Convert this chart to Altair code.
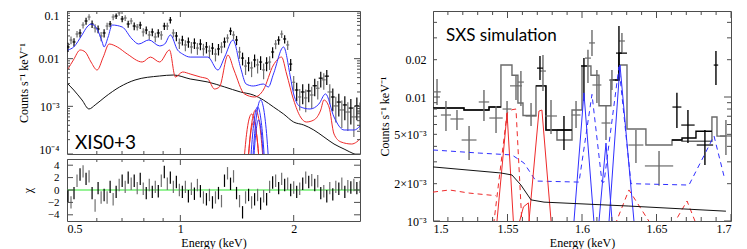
import altair as alt
import pandas as pd

SERIF = "Liberation Serif"
SANS = "Lato"
FRAME = "#4d4d4d"
DBLACK = "#000000"
DGRAY = "#707070"
RED = "#ee2a2a"
BLUE = "#2f2fff"
GREEN = "#2ee82e"

# ---------------- XIS spectrum (left) ----------------
xis_energy = [0.5031, 0.5124, 0.5219, 0.5316, 0.5415, 0.5516, 0.5618, 0.5722, 0.5829, 0.5937,
              0.6047, 0.6160, 0.6274, 0.6390, 0.6509, 0.6630, 0.6753, 0.6879, 0.7006, 0.7137,
              0.7269, 0.7404, 0.7542, 0.7682, 0.7825, 0.7970, 0.8118, 0.8269, 0.8423, 0.8579,
              0.8738, 0.8901, 0.9066, 0.9235, 0.9406, 0.9581, 0.9759, 0.9940, 1.0124, 1.0312,
              1.0504, 1.0699, 1.0898, 1.1100, 1.1306, 1.1516, 1.1730, 1.1948, 1.2170, 1.2396,
              1.2626, 1.2861, 1.3099, 1.3343, 1.3591, 1.3843, 1.4100, 1.4362, 1.4628, 1.4900,
              1.5177, 1.5459, 1.5746, 1.6038, 1.6336, 1.6639, 1.6948, 1.7263, 1.7583, 1.7910,
              1.8242, 1.8581, 1.8926, 1.9277, 1.9635, 2.0000, 2.0371, 2.0749, 2.1134, 2.1527,
              2.1926, 2.2333, 2.2748, 2.3170, 2.3600, 2.4039, 2.4485, 2.4939, 2.5402, 2.5874,
              2.6354, 2.6843, 2.7342, 2.7849, 2.8366, 2.8893, 2.9429, 2.9976]
xis_rate = [0.0176, 0.0246, 0.0224, 0.0329, 0.0346, 0.0508, 0.0617, 0.0748, 0.0534, 0.0440,
            0.0419, 0.0299, 0.0346, 0.0484, 0.0534, 0.0748, 0.0785, 0.0908, 0.0680, 0.0713,
            0.0534, 0.0617, 0.0484, 0.0462, 0.0508, 0.0363, 0.0399, 0.0314, 0.0363, 0.0285,
            0.0346, 0.0314, 0.0484, 0.0484, 0.0647, 0.0346, 0.0299, 0.0213, 0.0246, 0.0194,
            0.0224, 0.0176, 0.0213, 0.0167, 0.0203, 0.0160, 0.0176, 0.0145, 0.0167, 0.0125,
            0.0160, 0.0176, 0.0224, 0.0271, 0.0381, 0.0314, 0.0246, 0.0138, 0.0103, 0.0070,
            0.0081, 0.0064, 0.0094, 0.0074, 0.0085, 0.0058, 0.0081, 0.0085, 0.0138, 0.0203,
            0.0246, 0.0329, 0.0259, 0.0194, 0.0077, 0.0032, 0.0022, 0.00157, 0.0020, 0.0015,
            0.0021, 0.00173, 0.0027, 0.0024, 0.0039, 0.0036, 0.0043, 0.0020, 0.00157, 0.00102,
            0.00123, 0.00084, 0.00107, 0.00076, 0.00092, 0.00060, 0.00102, 0.00076]
xis_relerr = [0.22, 0.18, 0.20, 0.16, 0.20, 0.15, 0.17, 0.14, 0.18, 0.20,
              0.19, 0.22, 0.20, 0.17, 0.15, 0.14, 0.13, 0.12, 0.15, 0.14,
              0.17, 0.15, 0.18, 0.16, 0.17, 0.20, 0.18, 0.21, 0.19, 0.22,
              0.20, 0.21, 0.17, 0.17, 0.15, 0.20, 0.22, 0.25, 0.23, 0.26,
              0.24, 0.27, 0.25, 0.28, 0.26, 0.28, 0.27, 0.30, 0.28, 0.30,
              0.27, 0.26, 0.24, 0.20, 0.18, 0.20, 0.22, 0.28, 0.30, 0.35,
              0.33, 0.36, 0.30, 0.34, 0.32, 0.36, 0.33, 0.32, 0.26, 0.22,
              0.20, 0.18, 0.20, 0.22, 0.28, 0.35, 0.42, 0.48, 0.45, 0.50,
              0.42, 0.48, 0.40, 0.42, 0.36, 0.38, 0.35, 0.45, 0.50, 0.55,
              0.50, 0.58, 0.52, 0.60, 0.55, 0.62, 0.50, 0.58]
# half bin widths of the wide high-energy bins (last 23 points)
xis_xhalf = [0.018, 0.022, 0.020, 0.025, 0.022, 0.028, 0.025, 0.030, 0.026, 0.030, 0.028, 0.032,
             0.035, 0.030, 0.036, 0.034, 0.038, 0.035, 0.040, 0.038, 0.042, 0.040, 0.045]
xis_chi = [-1.0, -2.0, -0.5, 1.5, 2.5, 3.0, 1.8, 2.2, -0.5, -2.5,
           0.3, -1.2, -0.8, -1.2, 0.5, -1.5, -0.3, 0.8, 1.5, 0.5,
           2.0, 1.0, 1.5, 0.3, 1.8, 0.2, -0.5, 0.8, -0.3, 0.5,
           -0.2, 1.5, 2.9, 1.0, 2.0, 0.5, 1.3, 0.0, -0.3, 0.5,
           -1.0, 0.2, -0.6, 0.8, -0.2, -1.2, -1.5, -0.8, -2.0, -1.2,
           -0.5, -1.8, 1.5, 2.7, 1.0, 2.2, -0.5, -1.8, -3.6, -1.2,
           -0.8, -2.0, -1.5, -0.8, -2.2, -1.0, -1.5, 0.5, 1.2, 1.5,
           0.3, 1.8, 0.8, 1.0, 0.0, 0.4, -0.3, 0.2, 1.0, 2.0,
           1.3, 1.6, 0.8, 1.4, -0.5, -0.2, -1.0, 0.3, -0.7, 0.5,
           0.2, 1.0, -0.3, 0.6, 0.4, 0.8, 0.3, 0.5]

blue_E = [0.503, 0.521, 0.548, 0.565, 0.579, 0.601, 0.620, 0.627, 0.643, 0.659, 0.701, 0.744, 0.775,
          0.825, 0.881, 0.909, 0.941, 0.983, 1.014, 1.062, 1.183, 1.258, 1.311, 1.380, 1.444, 1.495,
          1.562, 1.661, 1.713, 1.767, 1.880, 1.960, 1.999, 2.085, 2.210, 2.333, 2.430, 2.559, 2.722,
          2.896, 3.000]
blue_y = [0.0152, 0.0176, 0.0314, 0.0461, 0.0533, 0.0419, 0.0224, 0.0176, 0.0285, 0.0508, 0.0461, 0.0259,
          0.0203, 0.0247, 0.0185, 0.0203, 0.0314, 0.0152, 0.0125, 0.0108, 0.0108, 0.00578, 0.0108, 0.0247,
          0.00668, 0.00294, 0.00267, 0.00294, 0.00255, 0.00477, 0.0176, 0.00412, 0.00182, 0.00097,
          0.00088, 0.00112, 0.00182, 0.000597, 0.000319, 0.000319, 0.000387]
red_E = [0.503, 0.520, 0.542, 0.559, 0.579, 0.601, 0.624, 0.647, 0.680, 0.723, 0.792, 0.833, 0.881,
         0.936, 0.970, 1.014, 1.062, 1.131, 1.183, 1.232, 1.270, 1.338, 1.388, 1.480, 1.575, 1.661,
         1.767, 1.857, 1.915, 1.999, 2.085, 2.160, 2.262, 2.360, 2.406, 2.482, 2.559, 2.670, 2.850,
         2.940, 3.000]
red_y = [0.00607, 0.00938, 0.0152, 0.0138, 0.00851, 0.00578, 0.0108, 0.0203, 0.0176, 0.0125, 0.00851,
         0.0108, 0.00851, 0.0152, 0.00412, 0.00525, 0.00477, 0.00412, 0.00375, 0.00231, 0.00255, 0.0119,
         0.00578, 0.00182, 0.00157, 0.0022, 0.00736, 0.0108, 0.00477, 0.00136, 0.000597, 0.000469,
         0.000516, 0.00084, 0.00136, 0.00097, 0.000263, 0.000179, 0.000162, 0.000179, 0.000207]
black_E = [0.503, 0.521, 0.548, 0.572, 0.594, 0.631, 0.690, 0.758, 0.881, 0.960, 1.062, 1.183, 1.311,
           1.444, 1.562, 1.661, 1.767, 1.880, 1.999, 2.127, 2.262, 2.406, 2.559, 2.722, 2.896, 3.000]
black_y = [0.00294, 0.0022, 0.00136, 0.00088, 0.00107, 0.00157, 0.00255, 0.00357, 0.00433, 0.00454,
           0.00375, 0.00324, 0.00255, 0.0020, 0.00173, 0.00136, 0.00097, 0.00069, 0.000469, 0.000406,
           0.000319, 0.000228, 0.000162, 0.000127, 0.0001, 0.00009]

xis_red_lines_E = [[1.472, 1.499, 1.522, 1.546, 1.570, 1.594, 1.624],
                   [1.5085, 1.5366, 1.5603, 1.5843, 1.6088, 1.6336, 1.6639],
                   [1.5085, 1.5271, 1.5459, 1.5649, 1.5843, 1.6038, 1.6237]]
xis_red_lines_y = [[5.6e-5, 2.6e-4, 5.4e-4, 6.9e-4, 5.4e-4, 2.6e-4, 5.6e-5],
                   [5.2e-5, 2.9e-4, 6.4e-4, 8.4e-4, 6.4e-4, 2.9e-4, 5.2e-5],
                   [5.1e-5, 1.7e-4, 3.6e-4, 4.7e-4, 3.6e-4, 1.7e-4, 5.1e-5]]
xis_blue_lines_E = [[1.5271, 1.5553, 1.5794, 1.6038, 1.6286, 1.6538, 1.6845],
                    [1.5459, 1.5794, 1.6088, 1.6336, 1.6588, 1.6897, 1.7263],
                    [1.5553, 1.5746, 1.5940, 1.6137, 1.6336, 1.6538, 1.6742]]
xis_blue_lines_y = [[3.2e-5, 2.5e-4, 6.9e-4, 9.7e-4, 6.9e-4, 2.5e-4, 3.2e-5],
                    [3.2e-5, 3.4e-4, 1.02e-3, 1.36e-3, 1.02e-3, 3.4e-4, 3.2e-5],
                    [2.8e-5, 1.4e-4, 3.7e-4, 5.2e-4, 3.7e-4, 1.4e-4, 2.8e-5]]

# ---------------- SXS simulation (right) ----------------
sxs_E = [1.5027, 1.5087, 1.5161, 1.5242, 1.5342, 1.5423, 1.5497, 1.5557, 1.5590, 1.5658,
         1.5718, 1.5738, 1.5792, 1.5879, 1.5960, 1.6013, 1.6040, 1.6067, 1.6100, 1.6161,
         1.6201, 1.6248, 1.6268, 1.6362, 1.6517, 1.6637, 1.6711, 1.6825, 1.6899, 1.6966]
sxs_dE = [0.0025, 0.0034, 0.0044, 0.0050, 0.0035, 0.0045, 0.0030, 0.0040, 0.0020, 0.0037,
          0.0020, 0.0020, 0.0040, 0.0045, 0.0030, 0.0020, 0.0020, 0.0020, 0.0030, 0.0030,
          0.0020, 0.0020, 0.0020, 0.0050, 0.0095, 0.0030, 0.0045, 0.0055, 0.0015, 0.0040]
sxs_rate = [0.0110, 0.00716, 0.00665, 0.0045, 0.00912, 0.00677, 0.0080, 0.0123, 0.0132, 0.00703,
            0.0171, 0.0162, 0.00703, 0.00542, 0.00716, 0.0178, 0.0206, 0.0273, 0.0125, 0.00617,
            0.0137, 0.0226, 0.0283, 0.0041, 0.00278, 0.0083, 0.00594, 0.0041, 0.0181, 0.00485]
sxs_lo = [0.00862, 0.00532, 0.00542, 0.0031, 0.0064, 0.00513, 0.00617, 0.00946, 0.00846, 0.00583,
          0.0137, 0.0112, 0.00504, 0.00374, 0.00562, 0.00929, 0.0130, 0.0214, 0.00895, 0.0045,
          0.0114, 0.0156, 0.0226, 0.00294, 0.00192, 0.00562, 0.00425, 0.00283, 0.0125, 0.00341]
sxs_hi = [0.0140, 0.00929, 0.00785, 0.00583, 0.0114, 0.00846, 0.00929, 0.0150, 0.0162, 0.00895,
          0.0214, 0.0218, 0.00946, 0.00703, 0.00929, 0.0206, 0.0240, 0.0347, 0.0165, 0.00846,
          0.0165, 0.0374, 0.0328, 0.00542, 0.00367, 0.0108, 0.00785, 0.00542, 0.0235, 0.00653]
sxs_set = ["B", "B", "B", "B", "B", "B", "B", "B", "B", "B",
           "A", "B", "B", "A", "B", "A", "B", "B", "B", "B",
           "B", "A", "B", "B", "B", "A", "A", "A", "A", "B"]

sxs_model_b_edges = [1.5000, 1.5208, 1.5376, 1.5456, 1.5530, 1.5570, 1.5604, 1.5691, 1.5758, 1.5832,
                     1.5933, 1.6000, 1.6060, 1.6114, 1.6194, 1.6248, 1.6302, 1.6429, 1.6604, 1.6671,
                     1.6872, 1.6906, 1.6966]
sxs_model_b = [8.15e-3, 7.85e-3, 8.3e-3, 0.0181, 0.0150, 8.95e-3, 7.1e-3, 0.0123, 5.42e-3, 4.5e-3,
               7.85e-3, 0.0178, 0.0150, 8.5e-3, 0.0137, 0.0181, 5.52e-3, 4.1e-3, 4.5e-3, 4.4e-3,
               6.9e-3, 4.84e-3]
sxs_model_a_edges = [[1.5000, 1.5208, 1.5376, 1.5456], [1.5691, 1.5758, 1.5933],
                     [1.6194, 1.6248, 1.6302], [1.6604, 1.6671, 1.6765, 1.6872]]
sxs_model_a = [[8.15e-3, 7.85e-3, 8.3e-3], [0.0123, 5.42e-3], [0.0137, 0.0226], [4.5e-3, 4.67e-3, 5.3e-3]]

sxs_cont_E = [1.5000, 1.5456, 1.5530, 1.5590, 1.5658, 1.5745, 1.6315, 1.6966]
sxs_cont_y = [2.73e-3, 2.44e-3, 2.35e-3, 1.95e-3, 1.48e-3, 1.42e-3, 1.32e-3, 1.20e-3]
sxs_blue_dash_E = [1.5000, 1.5310, 1.5530, 1.5610, 1.5691, 1.5980, 1.6067, 1.6134, 1.6148, 1.6248,
                   1.6329, 1.6718, 1.6886, 1.6953]
sxs_blue_dash_y = [3.74e-3, 3.53e-3, 3.41e-3, 2.94e-3, 2.10e-3, 2.06e-3, 1.05e-2, 2.06e-3, 2.06e-3,
                   1.75e-2, 2.00e-3, 1.95e-3, 4.85e-3, 2.30e-3]
sxs_red_dash_E = [[1.5000, 1.5110, 1.5242, 1.5376, 1.5423], [1.5400, 1.5497, 1.5530, 1.5557, 1.5600],
                  [1.6200, 1.6315, 1.6500], [1.6580, 1.6705, 1.6790]]
sxs_red_dash_y = [[1.71e-3, 1.78e-3, 1.68e-3, 1.62e-3, 1.60e-3], [8e-4, 7.4e-3, 7.9e-3, 8.0e-3, 8e-4],
                  [8e-4, 1.78e-3, 8e-4], [8e-4, 1.45e-3, 8e-4]]
sxs_red_lines_E = [[1.5422, 1.5497, 1.5544], [1.5637, 1.5711, 1.5731, 1.5799], [1.5560, 1.5607, 1.5640, 1.5650]]
sxs_red_lines_y = [[8e-4, 7.4e-3, 8e-4], [8e-4, 7.7e-3, 7.85e-3, 8e-4], [8e-4, 1.3e-3, 1.4e-3, 8e-4]]
sxs_blue_lines_E = [[1.5940, 1.6013, 1.6086], [1.6176, 1.6255, 1.6356], [1.6107, 1.6161, 1.6208]]
sxs_blue_lines_y = [[8e-4, 0.0108, 8e-4], [8e-4, 0.0181, 8e-4], [8e-4, 4.25e-3, 8e-4]]

# tick positions
lx_major = [0.5, 1, 2]
lx_minor = [0.6, 0.7, 0.8, 0.9]
ly_major = [1e-4, 1e-3, 1e-2, 1e-1]
ly_minor = [2e-4, 3e-4, 4e-4, 5e-4, 6e-4, 7e-4, 8e-4, 9e-4,
            2e-3, 3e-3, 4e-3, 5e-3, 6e-3, 7e-3, 8e-3, 9e-3,
            2e-2, 3e-2, 4e-2, 5e-2, 6e-2, 7e-2, 8e-2, 9e-2]
chi_major = [-4, -2, 0, 2, 4]
rx_major = [1.5, 1.55, 1.6, 1.65, 1.7]
rx_minor = [1.51, 1.52, 1.53, 1.54, 1.56, 1.57, 1.58, 1.59, 1.61, 1.62, 1.63, 1.64,
            1.66, 1.67, 1.68, 1.69]
ry_major = [1e-3, 1e-2]
ry_minor = [2e-3, 3e-3, 4e-3, 5e-3, 6e-3, 7e-3, 8e-3, 9e-3, 2e-2, 3e-2, 4e-2]
ry_labels = [1e-3, 2e-3, 5e-3, 1e-2, 2e-2]

# ---------------- sizes / scales / axes ----------------
WL, HT, HB = 293, 143, 62
WR, HR = 298, 210
X_L = alt.Scale(type="log", domain=[0.5, 3.0], nice=False)
Y_LT = alt.Scale(type="log", domain=[1e-4, 0.1], nice=False)
Y_LB = alt.Scale(domain=[-5, 5], nice=False, zero=False)
X_R = alt.Scale(domain=[1.5, 1.7], nice=False, zero=False)
Y_R = alt.Scale(type="log", domain=[1e-3, 0.0494], nice=False)

AX_LT = alt.Axis(values=ly_major, title="Counts s⁻¹ keV⁻¹", titleX=-37, labelPadding=8,
                 labelBaseline={"condition": [{"test": "datum.value > 0.05", "value": "top"},
                                              {"test": "datum.value < 0.0005", "value": "bottom"}],
                                "value": "middle"},
                 labelOffset={"condition": [{"test": "datum.value > 0.05", "value": -1},
                                            {"test": "datum.value < 0.0005", "value": 2}],
                              "value": 0},
                 labelExpr="datum.value > 0.05 ? '0.1' : datum.value > 0.005 ? '0.01' : datum.value > 0.0005 ? '10⁻³' : '10⁻⁴'")
AX_LB_Y = alt.Axis(values=chi_major, title="χ", titleX=-33, labelPadding=8, labelFontSize=11)
AX_LB_X = alt.Axis(values=lx_major, title="Energy (keV)", labelPadding=2, titlePadding=3,
                   labelExpr="datum.value < 0.7 ? '0.5' : datum.value < 1.5 ? '1' : '2'")
AX_RX = alt.Axis(values=rx_major, title="Energy (keV)", labelPadding=2, titlePadding=3, format="~g")
AX_RY = alt.Axis(values=ry_labels, title="Counts s⁻¹ keV⁻¹", titleX=-42, labelPadding=7,
                 labelExpr="datum.value < 0.0015 ? '10⁻³' : datum.value < 0.003 ? '2×10⁻³' : datum.value < 0.007 ? '5×10⁻³' : datum.value < 0.015 ? '0.01' : '0.02'")


def X(field, sc, ax):
    return alt.X(field, scale=sc, axis=ax)


def Y(field, sc, ax):
    return alt.Y(field, scale=sc, axis=ax)


def frame_ticks(xvals, yvals, xs, ys, xax, yax, W, H, L):
    out = []
    if xvals:
        d = alt.Chart(pd.DataFrame({"v": xvals}))
        out.append(d.mark_rule(color=FRAME, clip=True).encode(
            x=X("v:Q", xs, xax), y=alt.value(0), y2=alt.value(L)))
        out.append(d.mark_rule(color=FRAME, clip=True).encode(
            x=X("v:Q", xs, xax), y=alt.value(H - L), y2=alt.value(H)))
    if yvals:
        d = alt.Chart(pd.DataFrame({"v": yvals}))
        out.append(d.mark_rule(color=FRAME, clip=True).encode(
            y=Y("v:Q", ys, yax), x=alt.value(0), x2=alt.value(L)))
        out.append(d.mark_rule(color=FRAME, clip=True).encode(
            y=Y("v:Q", ys, yax), x=alt.value(W - L), x2=alt.value(W)))
    return out


def multi(Es, ys, xs, ysc, xax, yax, color, width=1.0, dash=None, interp="linear"):
    rows = []
    for k, (E, y) in enumerate(zip(Es, ys)):
        for e, v in zip(E, y):
            rows.append({"E": e, "y": v, "id": k})
    kw = dict(color=color, strokeWidth=width, clip=True, interpolate=interp)
    if dash:
        kw["strokeDash"] = dash
    return alt.Chart(pd.DataFrame(rows)).mark_line(**kw).encode(
        x=X("E:Q", xs, xax), y=Y("y:Q", ysc, yax), detail="id:N", order="E:Q")


# ---------------- left data table ----------------
xis = pd.DataFrame({"E": xis_energy, "rate": xis_rate, "err": xis_relerr, "chi": xis_chi})
xis["lo"] = xis["rate"] * (1 - xis["err"])
xis["hi"] = xis["rate"] * (1 + xis["err"])
xis["clo"] = xis["chi"] - 1
xis["chi_hi"] = xis["chi"] + 1
xis["set"] = ["A" if i % 2 == 0 else "B" for i in range(len(xis))]
# bin edges: geometric midpoints between neighbouring channels; wide bins at high energy
n = len(xis_energy)
nw = len(xis_xhalf)
x0, x1 = [], []
for i, e in enumerate(xis_energy):
    if i >= n - nw:
        h = xis_xhalf[i - (n - nw)]
        x0.append(e - h)
        x1.append(e + h)
    else:
        lo_nb = xis_energy[i - 1] if i > 0 else e * e / xis_energy[i + 1]
        hi_nb = xis_energy[i + 1]
        x0.append((lo_nb * e) ** 0.5)
        x1.append((hi_nb * e) ** 0.5)
xis["x0"] = x0
xis["x1"] = x1

# ---------------- left top ----------------
LTX, LTY = None, AX_LT
lt_layers = []
for s, col in (("B", DGRAY), ("A", DBLACK)):
    part = xis[xis.set == s]
    lt_layers.append(alt.Chart(part).mark_rule(color=col, strokeWidth=1.2, clip=True).encode(
        x=X("E:Q", X_L, LTX), y=Y("lo:Q", Y_LT, LTY), y2="hi:Q"))
    lt_layers.append(alt.Chart(part).mark_rule(color=col, strokeWidth=1.2, clip=True).encode(
        x=X("x0:Q", X_L, LTX), x2="x1:Q", y=Y("rate:Q", Y_LT, LTY)))
lt_layers += [
    multi(xis_red_lines_E, xis_red_lines_y, X_L, Y_LT, LTX, LTY, RED, 1.0, interp="monotone"),
    multi(xis_blue_lines_E, xis_blue_lines_y, X_L, Y_LT, LTX, LTY, BLUE, 1.0, interp="monotone"),
    multi([black_E], [black_y], X_L, Y_LT, LTX, LTY, "#111111", 1.0, interp="monotone"),
    multi([red_E], [red_y], X_L, Y_LT, LTX, LTY, RED, 1.0, interp="monotone"),
    multi([blue_E], [blue_y], X_L, Y_LT, LTX, LTY, BLUE, 1.0, interp="monotone"),
]
lt_layers += frame_ticks(lx_major, ly_major, X_L, Y_LT, LTX, LTY, WL, HT, 6)
lt_layers += frame_ticks(lx_minor, ly_minor, X_L, Y_LT, LTX, LTY, WL, HT, 3)
lt_layers.append(alt.Chart(pd.DataFrame({"t": ["XIS0+3"]})).mark_text(
    align="left", baseline="alphabetic", font=SANS, fontSize=19, color="#000").encode(
    x=alt.value(8), y=alt.value(138), text="t:N"))
left_top = alt.layer(*lt_layers).properties(width=WL, height=HT)

# ---------------- left bottom ----------------
LBX, LBY = AX_LB_X, AX_LB_Y
lb_layers = [
    alt.Chart(pd.DataFrame({"z": [0]})).mark_rule(color=GREEN, strokeWidth=1.2).encode(
        y=Y("z:Q", Y_LB, LBY)),
]
for s, col in (("B", DGRAY), ("A", DBLACK)):
    lb_layers.append(alt.Chart(xis[xis.set == s]).mark_rule(color=col, strokeWidth=1.2, clip=True).encode(
        x=X("E:Q", X_L, LBX), y=Y("clo:Q", Y_LB, LBY), y2="chi_hi:Q"))
lb_layers += frame_ticks(lx_major, chi_major, X_L, Y_LB, LBX, LBY, WL, HB, 6)
lb_layers += frame_ticks(lx_minor, [], X_L, Y_LB, LBX, LBY, WL, HB, 3)
left_bot = alt.layer(*lb_layers).properties(width=WL, height=HB)

left = alt.vconcat(left_top, left_bot, spacing=5, bounds="flush")

# ---------------- right ----------------
sxs = pd.DataFrame({"E": sxs_E, "dE": sxs_dE, "rate": sxs_rate, "lo": sxs_lo, "hi": sxs_hi, "set": sxs_set})
sxs["x0"] = sxs["E"] - sxs["dE"]
sxs["x1"] = sxs["E"] + sxs["dE"]


def step_df(edge_lists, value_lists):
    rows = []
    for k, (ed, va) in enumerate(zip(edge_lists, value_lists)):
        vv = list(va) + [va[-1]]
        for e, v in zip(ed, vv):
            rows.append({"E": e, "y": v, "id": k})
    return pd.DataFrame(rows)


RX, RY = AX_RX, AX_RY
r_layers = [
    alt.Chart(step_df([sxs_model_b_edges], [sxs_model_b])).mark_line(
        color="#6a6a6a", strokeWidth=1.4, interpolate="step-after", clip=True).encode(
        x=X("E:Q", X_R, RX), y=Y("y:Q", Y_R, RY), detail="id:N", order="E:Q"),
    alt.Chart(step_df(sxs_model_a_edges, sxs_model_a)).mark_line(
        color=DBLACK, strokeWidth=1.4, interpolate="step-after", clip=True).encode(
        x=X("E:Q", X_R, RX), y=Y("y:Q", Y_R, RY), detail="id:N", order="E:Q"),
]
for s, col in (("B", "#6a6a6a"), ("A", DBLACK)):
    part = sxs[sxs.set == s]
    r_layers.append(alt.Chart(part).mark_rule(color=col, strokeWidth=1.4, clip=True).encode(
        x=X("E:Q", X_R, RX), y=Y("lo:Q", Y_R, RY), y2="hi:Q"))
    r_layers.append(alt.Chart(part).mark_rule(color=col, strokeWidth=1.2, clip=True).encode(
        x=X("x0:Q", X_R, RX), x2="x1:Q", y=Y("rate:Q", Y_R, RY)))
r_layers += [
    multi([sxs_blue_dash_E], [sxs_blue_dash_y], X_R, Y_R, RX, RY, BLUE, 1.0, dash=[5, 4]),
    multi(sxs_red_dash_E, sxs_red_dash_y, X_R, Y_R, RX, RY, RED, 1.0, dash=[5, 4]),
    multi(sxs_red_lines_E, sxs_red_lines_y, X_R, Y_R, RX, RY, RED, 1.0),
    multi(sxs_blue_lines_E, sxs_blue_lines_y, X_R, Y_R, RX, RY, BLUE, 1.0),
    multi([sxs_cont_E], [sxs_cont_y], X_R, Y_R, RX, RY, "#111111", 1.0),
]
r_layers += frame_ticks(rx_major, ry_major, X_R, Y_R, RX, RY, WR, HR, 7)
r_layers += frame_ticks(rx_minor, ry_minor, X_R, Y_R, RX, RY, WR, HR, 4)
r_layers.append(alt.Chart(pd.DataFrame({"t": ["SXS simulation"]})).mark_text(
    align="left", baseline="alphabetic", font=SANS, fontSize=17, color="#000").encode(
    x=alt.value(13), y=alt.value(30), text="t:N"))
right = alt.layer(*r_layers).properties(width=WR, height=HR)

chart = alt.hconcat(left, right, spacing=15).properties(
    padding={"left": 8, "top": 0, "right": 2, "bottom": 0}, background="white"
).configure_view(stroke=FRAME, strokeWidth=1).configure_axis(
    labelFont=SERIF, titleFont=SERIF, labelFontSize=12, titleFontSize=12, titleFontWeight="normal",
    labelColor="#000", titleColor="#000", grid=False, ticks=False, domain=False)

chart.save("out.html", embed_options={"renderer": "svg", "actions": False})
